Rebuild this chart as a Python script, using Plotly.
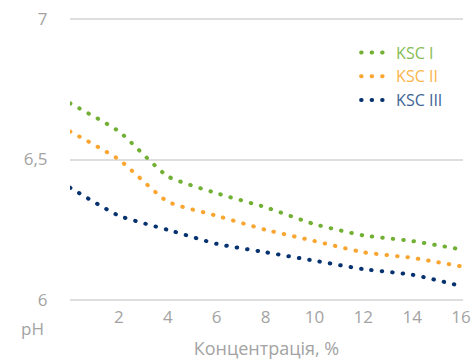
import plotly.graph_objects as go

concentration = [0, 2, 4, 6, 8, 10, 12, 14, 16]
ksc_1 = [6.70, 6.60, 6.44, 6.38, 6.33, 6.27, 6.23, 6.21, 6.18]
ksc_2 = [6.60, 6.50, 6.35, 6.30, 6.25, 6.21, 6.17, 6.15, 6.12]
ksc_3 = [6.40, 6.30, 6.25, 6.20, 6.17, 6.14, 6.11, 6.09, 6.05]
series_names = ["KSC I", "KSC II", "KSC III"]
x_ticks = [2, 4, 6, 8, 10, 12, 14, 16]
y_ticks = [6, 6.5, 7]
y_tick_labels = ["6", "6,5", "7"]

colors = ["#72B035", "#F9A52F", "#073270"]
text_colors = ["#86BD55", "#FBB54B", "#3E6496"]
FONT = "Open Sans"
GRAY = "#a3a3a3"

fig = go.Figure()
for i, (name, vals) in enumerate(zip(series_names, [ksc_1, ksc_2, ksc_3])):
    fig.add_trace(go.Scatter(
        x=concentration, y=vals, mode="lines",
        name=f"<span style='color:{text_colors[i]}'>{name}</span>",
        legendgroup=f"g{i}",
        line=dict(color=colors[i], width=4, dash="0.5px,10px", shape="spline", smoothing=0.5),
        hoverinfo="skip",
    ))

fig.update_layout(
    width=472, height=364,
    margin=dict(l=70, r=9, t=17, b=62, autoexpand=False),
    paper_bgcolor="white", plot_bgcolor="white",
    font=dict(family=FONT, color=GRAY, size=17),
    showlegend=True,
    legend=dict(x=0.728, xanchor="left", y=0.935, yanchor="top",
                font=dict(family=FONT, size=16), tracegroupgap=0,
                bgcolor="rgba(0,0,0,0)"),
    xaxis=dict(range=[0, 16.08], tickvals=x_ticks, ticktext=[str(v) for v in x_ticks],
               showgrid=False, zeroline=False, showline=False,
               ticks="outside", ticklen=0, tickcolor="rgba(0,0,0,0)",
               tickfont=dict(size=17, color=GRAY),
               title=dict(text="Концентрація, %", font=dict(size=18, color=GRAY), standoff=14)),
    yaxis=dict(range=[5.993, 7.007], tickvals=y_ticks, ticktext=y_tick_labels,
               showgrid=True, gridcolor="#dedede", gridwidth=2, zeroline=False, showline=False,
               ticks="outside", ticklen=18, tickcolor="rgba(0,0,0,0)",
               tickfont=dict(size=17, color=GRAY)),
)
fig.add_annotation(text="pH", xref="paper", yref="paper", x=0, y=0, xshift=-38, yshift=-26,
                   xanchor="center", yanchor="middle", showarrow=False,
                   font=dict(family=FONT, size=17, color=GRAY))

post = """
document.body.style.margin='0';
function roundCaps(){
  document.querySelectorAll('.scatterlayer path.js-line, .legend path.js-line').forEach(function(p){
    p.style.strokeLinecap='round';
  });
}
roundCaps();
var gd=document.getElementById('{plot_id}');
if(gd && gd.on){ gd.on('plotly_afterplot', roundCaps); }
"""
fig.write_html("out.html", post_script=post, config={"displayModeBar": False, "staticPlot": True})
